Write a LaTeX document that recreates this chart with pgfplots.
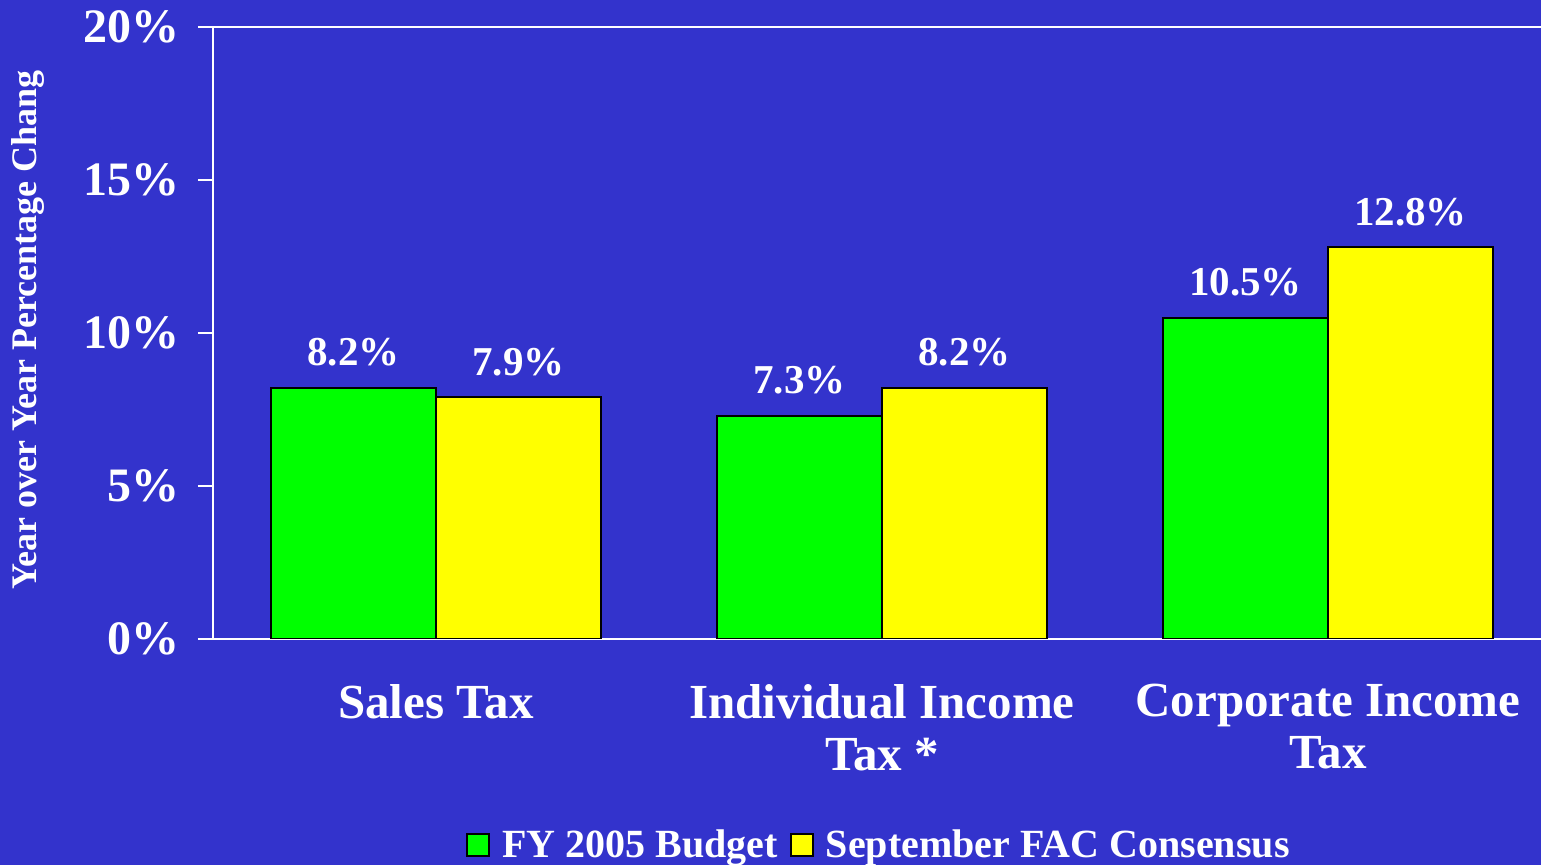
\documentclass[border=0pt]{standalone}
\usepackage{pgfplots}
\pgfplotsset{compat=1.18}
\usepackage{fontspec}
\setmainfont{Liberation Serif}
\definecolor{bg}{HTML}{3333CC}
\definecolor{bargreen}{HTML}{00FF00}
\definecolor{baryellow}{HTML}{FFFF00}
\begin{document}
\begin{tikzpicture}
\fill[bg] (-106.5pt,-113pt) rectangle (664pt,319.5pt);
\begin{axis}[
  at={(0,0)}, anchor=south west,
  scale only axis, width=669pt, height=306pt,
  xmin=-0.5, xmax=2.5, ymin=0, ymax=20,
  axis line style={white, line width=1.3pt},
  ybar=0pt, bar width=82.5pt,
  xtick={0,1,2},
  xticklabels={Sales Tax, Individual Income\\Tax *, Corporate Income\\Tax},
  xtick pos=bottom, ytick pos=left,
  xtick style={draw=none},
  extra x ticks={-0.5,0.5,1.5,2.5},
  extra x tick labels={},
  extra x tick style={tick style={draw=white, line width=1.3pt}, major tick length=6.5pt},
  ytick={0,5,10,15,20},
  yticklabels={0\%,5\%,10\%,15\%,20\%},
  ytick style={draw=white, line width=1.3pt},
  major tick length=7.5pt,
  tick align=outside,
  yticklabel style={font=\fontsize{24}{28}\selectfont\bfseries, text=white, anchor=east, xshift=-5.5pt},
  xticklabel style={font=\fontsize{24.5}{26}\selectfont\bfseries, text=white, align=center, anchor=north, yshift=-11.5pt},
  ylabel={Year over Year Percentage Chang},
  ylabel style={font=\fontsize{18}{20}\selectfont\bfseries, text=white, at={(axis description cs:-0.1383,0.505)}, anchor=center, rotate=0},
  nodes near coords={\pgfmathprintnumber[fixed,fixed zerofill,precision=1,assume math mode=true]{\pgfplotspointmeta}\%},
  every node near coord/.append style={font=\fontsize{20.5}{24}\selectfont\bfseries, text=white, yshift=7pt},
  legend columns=2,
  legend style={at={(axis description cs:0.4985,0)}, anchor=center, yshift=-103pt,
    draw=none, fill=none, text=white, font=\fontsize{20}{22}\selectfont\bfseries,
    /tikz/every even column/.append style={column sep=4pt}},
  legend image code/.code={\draw[#1, line width=1pt] (0pt,-5.5pt) rectangle (11pt,5.5pt); \path (15pt,0pt);},
]
\addplot[fill=bargreen, draw=black, line width=1pt] coordinates {(0,8.2) (1,7.3) (2,10.5)};
\addplot[fill=baryellow, draw=black, line width=1pt] coordinates {(0,7.9) (1,8.2) (2,12.8)};
\legend{FY 2005 Budget, September FAC Consensus}
\end{axis}
\pgfresetboundingbox
\path[use as bounding box] (-106.5pt,-113pt) rectangle (664pt,319.5pt);
\end{tikzpicture}
\end{document}
